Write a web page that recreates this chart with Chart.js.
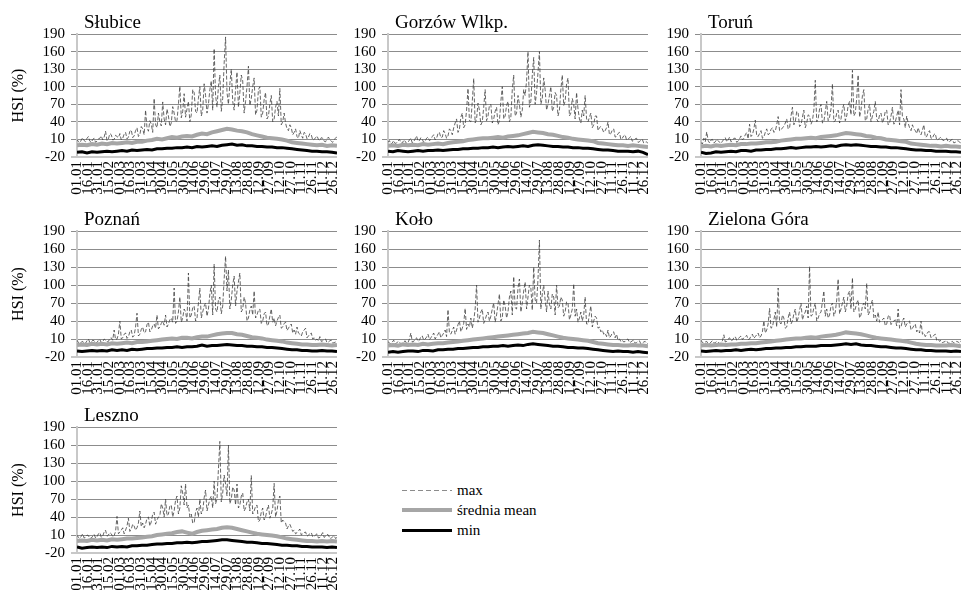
<!DOCTYPE html>
<html>
<head>
<meta charset="utf-8">
<script src="https://cdn.jsdelivr.net/npm/chart.js@4.4.1/dist/chart.umd.min.js"></script>
<style>
  body { margin: 0; background: #fff; }
  #wrap { position: relative; width: 962px; height: 590px; overflow: hidden; }
  #wrap canvas { position: absolute; }
  .leg { position: absolute; left: 402px; height: 16px; display: flex; align-items: center;
         font: 15px "Liberation Serif", serif; color: #000; white-space: nowrap; }
  .leg i { display: inline-block; width: 50px; margin-right: 5px; }
</style>
</head>
<body>
<div id="wrap">
  <div class="leg" style="top:482px"><i style="height:1px;background:repeating-linear-gradient(90deg,#8c8c8c 0 5px,transparent 5px 8px)"></i>max</div>
  <div class="leg" style="top:502px"><i style="height:4px;background:#a6a6a6"></i>średnia mean</div>
  <div class="leg" style="top:522px"><i style="height:3px;background:#000"></i>min</div>
</div>
<script>
/* tick labels */
const yTickValues = [-20, 10, 40, 70, 100, 130, 160, 190];
const tickLabels = ['01.01', '16.01', '31.01', '15.02', '01.03', '16.03', '31.03', '15.04', '30.04',
    '15.05', '30.05', '14.06', '29.06', '14.07', '29.07', '13.08', '28.08', '12.09', '27.09',
    '12.10', '27.10', '11.11', '26.11', '11.12', '26.12'];

/* HSI (%) - max every 2 days, mean and min weekly */
const maxSlubice = [10, 6, 4, 9, 13, 8, 6, 12, 15, 7, 5, 10, 12, 5, 7, 11,
    12, 16, 9, 14, 24, 8, 11, 20, 18, 9, 10, 17, 15, 13,
    20, 9, 12, 19, 22, 11, 14, 24, 26, 13, 16, 25, 30, 15, 18, 32,
    28, 18, 60, 30, 24, 42, 36, 22, 80, 35, 30, 55, 40, 33,
    74, 45, 35, 62, 50, 32, 38, 66, 55, 40, 42, 70, 101, 47, 58, 88,
    48, 62, 75, 40, 52, 95, 90, 58, 55, 80, 100, 50, 60, 105, 85, 55,
    70, 95, 110, 60, 165, 85, 65, 100, 120, 58, 80, 140, 185, 90,
    70, 105, 130, 75, 60, 95, 125, 65, 90, 120, 110, 55, 75, 100, 135, 68,
    80, 100, 115, 52, 60, 95, 100, 48, 55, 78, 90, 45, 50, 70, 85, 40,
    45, 65, 75, 50, 97, 35, 40, 55, 38, 28, 25, 35, 30, 18,
    22, 28, 15, 12, 25, 18, 12, 22, 20, 11, 14, 20, 18, 9, 10, 13,
    16, 10, 8, 13, 12, 7, 6, 11, 14, 9, 7, 5, 10, 12, 15];
const meanSlubice = [0, 1, 0, 2, 1, 3, 2, 4, 3, 4, 5, 4, 6, 6, 8, 9, 11, 10, 12, 14, 13, 15, 16, 15, 18, 20,
    19, 22, 24, 26, 28, 27, 25, 24, 22, 19, 17, 15, 13, 12, 11, 10, 8, 5, 4, 3, 2, 1, 0, 1, -1, 0, -1];
const minSlubice = [-12, -11, -13, -11, -12, -11, -10, -11, -10, -9, -10, -8, -9, -8, -7, -8, -6, -6, -5, -5, -4, -4,
    -3, -4, -2, -3, -2, -1, -2, 0, 1, 2, 0, 1, -1, -1, -2, -2, -3, -3, -4, -4, -5, -6, -7, -8, -9, -10,
    -10, -11, -11, -12, -13];

const maxGorzow = [5, 8, 2, 4, 8, 3, 4, 7, 10, 5, 3, 9, 7, 3, 5, 9,
    12, 4, 6, 11, 16, 7, 8, 13, 10, 5, 7, 12, 14, 8,
    10, 15, 18, 9, 12, 20, 22, 13, 14, 25, 20, 12, 16, 28, 25, 18,
    30, 38, 45, 22, 28, 48, 55, 30, 35, 60, 97, 42, 40, 75,
    114, 38, 45, 72, 60, 35, 40, 65, 95, 42, 50, 68, 70, 38, 45, 58,
    65, 35, 42, 75, 100, 45, 50, 68, 75, 40, 48, 95, 120, 50, 55, 85,
    70, 48, 60, 95, 85, 110, 160, 65, 75, 120, 150, 70, 90, 125,
    160, 70, 80, 115, 95, 60, 70, 85, 100, 58, 65, 90, 85, 50, 60, 95,
    120, 68, 75, 105, 115, 50, 55, 80, 70, 45, 90, 62, 45, 38, 60, 50,
    85, 45, 40, 48, 55, 30, 35, 50, 50, 25, 30, 32, 28, 22,
    25, 30, 40, 18, 20, 26, 28, 14, 15, 20, 22, 10, 12, 16, 18, 9,
    10, 13, 15, 7, 8, 11, 12, 5, 6, 9, 10, 4, 5, 6, 3];
const meanGorzow = [-1, 0, -1, 1, 0, 1, 0, 2, 1, 2, 3, 2, 4, 5, 6, 7, 9, 10, 11, 12, 12, 13, 14, 13, 15, 16,
    17, 19, 21, 23, 22, 21, 19, 18, 16, 14, 13, 11, 10, 9, 8, 7, 4, 3, 2, 1, 0, 0, -1, 0, -1, -2, -3];
const minGorzow = [-10, -11, -9, -10, -11, -10, -9, -10, -9, -9, -8, -9, -8, -7, -7, -6, -6, -5, -5, -4, -4, -3,
    -4, -3, -2, -3, -2, -1, -2, 0, 1, 0, -1, -2, -2, -3, -3, -4, -4, -5, -5, -6, -7, -8, -8, -9, -10, -10,
    -10, -11, -10, -12, -16];

const maxTorun = [5, 2, 12, 6, 23, 8, 4, 9, 10, 4, 6, 10, 8, 5, 3, 7,
    10, 13, 6, 9, 14, 6, 8, 12, 12, 5, 7, 11, 16, 9,
    12, 18, 22, 11, 36, 15, 18, 28, 43, 16, 15, 20, 25, 12, 14, 22,
    28, 18, 20, 27, 30, 22, 24, 35, 49, 25, 26, 30, 32, 38,
    45, 28, 30, 50, 65, 35, 40, 58, 55, 32, 35, 48, 60, 30, 38, 52,
    50, 36, 42, 60, 111, 40, 45, 62, 70, 38, 40, 58, 75, 42, 48, 62,
    105, 40, 42, 55, 60, 38, 45, 62, 70, 42, 50, 68, 75, 52,
    128, 50, 55, 80, 120, 48, 60, 85, 95, 42, 45, 62, 70, 40, 50, 58,
    75, 45, 40, 52, 55, 38, 45, 58, 60, 35, 38, 50, 65, 36, 40, 50,
    60, 35, 95, 48, 45, 30, 50, 38, 30, 25, 35, 28, 25, 20,
    30, 22, 18, 26, 35, 14, 15, 22, 25, 12, 12, 18, 20, 9, 10, 12,
    14, 9, 8, 11, 12, 6, 6, 9, 10, 4, 5, 7, 8, 5, 4];
const meanTorun = [-2, -1, -2, 0, -1, 0, 1, 0, 2, 2, 3, 3, 4, 5, 5, 6, 8, 9, 10, 11, 11, 12, 13, 12, 14, 15,
    16, 17, 19, 21, 20, 19, 18, 16, 15, 13, 12, 10, 9, 8, 7, 6, 3, 2, 1, 0, -1, -1, -2, -1, -2, -2, -3];
const minTorun = [-12, -14, -13, -11, -12, -11, -10, -11, -9, -9, -10, -8, -8, -7, -7, -6, -6, -5, -4, -5, -4, -3,
    -3, -2, -3, -2, -1, -2, 0, 1, 0, 1, 0, -1, -2, -2, -3, -3, -4, -4, -5, -6, -7, -8, -8, -9, -9, -10,
    -10, -10, -11, -11, -12];

const maxPoznan = [8, 4, 2, 5, 6, 2, 3, 7, 10, 4, 5, 8, 7, 3, 4, 8,
    9, 4, 5, 10, 8, 5, 6, 11, 12, 8, 25, 9, 10, 18,
    40, 10, 12, 18, 20, 11, 14, 22, 25, 13, 16, 30, 53, 15, 18, 26,
    30, 20, 22, 34, 38, 22, 25, 32, 35, 28, 50, 27, 30, 36,
    40, 33, 50, 30, 35, 42, 45, 38, 95, 36, 40, 55, 80, 38, 45, 60,
    55, 40, 120, 45, 50, 62, 65, 40, 45, 70, 95, 45, 55, 65, 70, 48,
    60, 85, 100, 50, 135, 60, 55, 75, 80, 52, 65, 110, 148, 90,
    125, 60, 75, 100, 115, 65, 90, 105, 120, 55, 60, 80, 70, 40, 45, 58,
    65, 50, 90, 45, 50, 58, 60, 36, 40, 52, 55, 32, 35, 48, 60, 38,
    45, 32, 40, 46, 50, 28, 30, 36, 38, 24, 28, 32, 35, 20,
    25, 18, 30, 20, 18, 15, 22, 25, 28, 12, 15, 18, 20, 10, 12, 8,
    10, 7, 14, 6, 7, 9, 10, 4, 5, 7, 8, 3, 4, 5, 6];
const meanPoznan = [0, 1, 0, 2, 1, 2, 1, 3, 2, 3, 4, 3, 5, 5, 6, 7, 8, 9, 10, 11, 10, 12, 12, 11, 13, 14,
    14, 16, 18, 19, 20, 20, 18, 17, 15, 13, 12, 11, 9, 8, 7, 6, 4, 3, 2, 1, 1, 0, 0, 1, 0, -1, 0];
const minPoznan = [-10, -11, -10, -9, -10, -9, -10, -8, -9, -8, -9, -7, -8, -7, -6, -6, -5, -5, -4, -4, -3, -4,
    -3, -3, -2, 0, -2, -1, -1, 0, 1, 0, -1, -1, -2, -2, -3, -3, -4, -4, -5, -6, -7, -8, -8, -9, -9, -10,
    -10, -9, -10, -10, -11];

const maxKolo = [6, 3, 2, 5, 8, 2, 3, 6, 5, 2, 2, 5, 7, 3, 4, 10,
    20, 5, 6, 10, 12, 6, 8, 14, 15, 8, 10, 13, 18, 9,
    12, 16, 20, 10, 14, 18, 22, 12, 16, 20, 25, 14, 59, 20, 18, 24,
    30, 18, 25, 34, 40, 22, 28, 36, 61, 26, 35, 30, 45, 28,
    40, 60, 100, 38, 45, 55, 60, 36, 42, 50, 55, 40, 48, 60, 70, 38,
    50, 68, 85, 40, 45, 75, 65, 45, 55, 80, 90, 50, 114, 62, 60, 95,
    110, 55, 70, 90, 105, 60, 80, 100, 95, 58, 130, 75, 70, 110,
    175, 60, 85, 100, 75, 55, 90, 68, 60, 85, 80, 50, 100, 62, 65, 80,
    75, 48, 55, 72, 70, 42, 50, 60, 102, 48, 60, 38, 45, 55, 40, 50,
    80, 35, 35, 52, 65, 30, 40, 48, 45, 28, 30, 22, 25, 18,
    20, 14, 25, 12, 15, 20, 22, 12, 18, 8, 10, 6, 8, 5, 6, 9,
    10, 4, 5, 7, 8, 3, 4, 6, 7, 2, 3, 5, 6, 3, 2];
const meanKolo = [-1, 0, -1, 1, 0, 1, 0, 2, 1, 2, 3, 3, 4, 5, 6, 7, 8, 9, 10, 11, 12, 13, 14, 15, 16, 17,
    18, 19, 20, 22, 21, 20, 18, 16, 14, 12, 11, 10, 9, 8, 7, 5, 3, 2, 1, 0, 0, -1, -1, 0, -1, -1, -2];
const minKolo = [-12, -11, -12, -11, -10, -10, -11, -9, -9, -10, -8, -8, -7, -7, -6, -6, -5, -4, -4, -3, -3, -2,
    -2, -1, -2, -1, 0, -1, 1, 2, 1, 0, -1, -2, -2, -3, -4, -4, -5, -5, -6, -7, -8, -9, -10, -11, -10, -11,
    -11, -12, -11, -12, -13];

const maxZielona = [8, 4, 3, 5, 6, 2, 2, 5, 7, 3, 4, 6, 5, 2, 3, 7,
    17, 5, 6, 10, 12, 7, 8, 12, 14, 8, 10, 13, 15, 9,
    12, 14, 16, 9, 10, 15, 18, 11, 14, 17, 20, 12, 15, 22, 40, 20,
    25, 35, 61, 28, 30, 42, 55, 30, 95, 38, 35, 50, 45, 28,
    30, 45, 55, 35, 40, 52, 60, 38, 45, 58, 70, 42, 50, 55, 65, 45,
    131, 48, 50, 62, 70, 40, 45, 52, 55, 72, 90, 48, 60, 45, 50, 65,
    70, 48, 55, 75, 110, 52, 60, 70, 80, 55, 65, 85, 90, 60,
    112, 55, 60, 70, 75, 45, 50, 65, 70, 60, 103, 50, 55, 68, 75, 45,
    50, 40, 55, 38, 40, 42, 45, 32, 35, 48, 50, 34, 38, 40, 42, 32,
    60, 28, 30, 40, 45, 30, 35, 38, 40, 25, 28, 32, 35, 22,
    25, 20, 40, 18, 20, 14, 18, 22, 22, 12, 14, 16, 18, 8, 10, 6,
    8, 4, 5, 6, 7, 3, 3, 5, 6, 3, 4, 6, 5, 3, 7];
const meanZielona = [-1, 0, -1, 0, 1, 0, 1, 1, 2, 2, 3, 3, 4, 5, 6, 7, 8, 9, 10, 11, 11, 12, 13, 12, 14, 15,
    16, 17, 19, 21, 20, 19, 18, 16, 14, 12, 11, 10, 9, 8, 7, 6, 4, 2, 1, 0, 0, -1, -1, -1, 0, -1, -2];
const minZielona = [-10, -11, -10, -9, -10, -9, -9, -8, -9, -8, -7, -8, -7, -6, -6, -5, -5, -4, -4, -3, -3, -2,
    -2, -2, -1, -1, -1, 0, 1, 2, 1, 2, 0, -1, -1, -2, -3, -3, -4, -5, -5, -6, -7, -8, -8, -9, -9, -10,
    -10, -10, -11, -10, -11];

const maxLeszno = [10, 6, 4, 8, 12, 5, 6, 10, 9, 4, 5, 8, 11, 5, 7, 12,
    14, 6, 8, 15, 18, 8, 10, 14, 12, 7, 9, 16, 41, 12,
    15, 18, 22, 12, 18, 25, 38, 16, 20, 28, 25, 18, 22, 30, 50, 24,
    30, 22, 28, 38, 40, 25, 32, 45, 48, 28, 35, 40, 42, 62,
    55, 40, 70, 42, 45, 58, 60, 40, 50, 68, 75, 45, 55, 92, 80, 60,
    95, 55, 60, 40, 45, 30, 30, 48, 55, 40, 70, 45, 50, 72, 85, 50,
    60, 70, 75, 55, 100, 62, 70, 120, 166, 65, 80, 110, 95, 75,
    160, 62, 70, 90, 85, 60, 95, 55, 60, 75, 80, 50, 55, 65, 70, 50,
    109, 45, 50, 58, 60, 32, 35, 48, 55, 35, 40, 52, 60, 38, 45, 55,
    96, 40, 50, 68, 75, 30, 35, 32, 30, 20, 25, 28, 22, 16,
    18, 12, 14, 17, 20, 10, 12, 14, 15, 8, 10, 12, 14, 7, 8, 10,
    12, 5, 6, 10, 14, 6, 8, 11, 10, 4, 5, 7, 9, 4, 6];
const meanLeszno = [0, 1, 0, 2, 1, 2, 1, 3, 2, 3, 4, 4, 5, 6, 7, 8, 10, 11, 12, 13, 15, 16, 14, 12, 15, 17,
    18, 19, 20, 22, 23, 22, 20, 18, 16, 14, 12, 11, 10, 9, 8, 6, 4, 3, 2, 1, 0, 0, -1, 0, -1, 0, -1];
const minLeszno = [-10, -12, -11, -10, -11, -10, -11, -9, -10, -9, -10, -8, -8, -7, -7, -6, -5, -5, -4, -4, -3, -3,
    -2, -3, -2, -1, -1, 0, 1, 2, 2, 1, 0, -1, -2, -2, -3, -4, -4, -5, -6, -7, -7, -8, -8, -9, -9, -10,
    -10, -10, -11, -10, -11];

const lastDay = 365;

/* panel layout */
const panels = [
    { name: 'Słubice', max: maxSlubice, mean: meanSlubice, min: minSlubice, left: 0, top: 0, w: 340, h: 195, axisW: 77, padTop: 34, bottom: 157, padRight: 3, yTitle: true },
    { name: 'Gorzów Wlkp.', max: maxGorzow, mean: meanGorzow, min: minGorzow, left: 340, top: 0, w: 310, h: 195, axisW: 48, padTop: 34, bottom: 157, padRight: 2 },
    { name: 'Toruń', max: maxTorun, mean: meanTorun, min: minTorun, left: 650, top: 0, w: 312, h: 195, axisW: 51, padTop: 34, bottom: 157, padRight: 1 },
    { name: 'Poznań', max: maxPoznan, mean: meanPoznan, min: minPoznan, left: 0, top: 195, w: 340, h: 200, axisW: 77, padTop: 36, bottom: 162, padRight: 3, yTitle: true },
    { name: 'Koło', max: maxKolo, mean: meanKolo, min: minKolo, left: 340, top: 195, w: 310, h: 200, axisW: 48, padTop: 36, bottom: 162, padRight: 2 },
    { name: 'Zielona Góra', max: maxZielona, mean: meanZielona, min: minZielona, left: 650, top: 195, w: 312, h: 200, axisW: 51, padTop: 36, bottom: 162, padRight: 1 },
    { name: 'Leszno', max: maxLeszno, mean: meanLeszno, min: minLeszno, left: 0, top: 395, w: 340, h: 195, axisW: 77, padTop: 32, bottom: 158, padRight: 3, yTitle: true }
];

const serif = '"Liberation Serif", "Times New Roman", serif';

// station name written just above the plot, like the excel chart title
const panelTitle = {
    id: 'panelTitle',
    afterDraw: function (chart, args, opts) {
        const ctx = chart.ctx, area = chart.chartArea;
        ctx.save();
        ctx.font = '19px ' + serif;
        ctx.fillStyle = '#000';
        ctx.textBaseline = 'alphabetic';
        ctx.fillText(opts.text, area.left + 7, area.top - 6);
        ctx.restore();
    }
};

function points(values) {
    const step = lastDay / (values.length - 1);
    return values.map((v, i) => ({ x: i * step, y: v }));
}

const wrap = document.getElementById('wrap');

panels.forEach(p => {
    const canvas = document.createElement('canvas');
    canvas.width = p.w;
    canvas.height = p.h;
    canvas.style.left = p.left + 'px';
    canvas.style.top = p.top + 'px';
    canvas.style.width = p.w + 'px';
    canvas.style.height = p.h + 'px';
    wrap.appendChild(canvas);

    new Chart(canvas.getContext('2d'), {
        type: 'line',
        data: {
            datasets: [
                { label: 'min', data: points(p.min), borderColor: '#000', borderWidth: 3 },
                { label: 'średnia mean', data: points(p.mean), borderColor: '#a6a6a6', borderWidth: 4 },
                { label: 'max', data: points(p.max), borderColor: '#404040', borderWidth: 0.8, borderDash: [4, 2] }
            ]
        },
        options: {
            responsive: false,
            animation: false,
            devicePixelRatio: 1,
            layout: { padding: { top: p.padTop, right: p.padRight, bottom: 0, left: 0 } },
            elements: { point: { radius: 0 }, line: { tension: 0, fill: false } },
            plugins: {
                legend: { display: false },
                tooltip: { enabled: false },
                panelTitle: { text: p.name }
            },
            scales: {
                x: {
                    type: 'linear',
                    min: 0,
                    max: lastDay,
                    afterBuildTicks: s => { s.ticks = tickLabels.map((t, k) => ({ value: k * 15 })); },
                    afterFit: s => { s.height = p.h - p.bottom; s.paddingLeft = 0; s.paddingRight = 0; },
                    grid: { display: false, drawTicks: false },
                    border: { display: false },
                    ticks: {
                        autoSkip: false,
                        minRotation: 90,
                        maxRotation: 90,
                        padding: 4,
                        color: '#000',
                        font: { family: serif, size: 15 },
                        callback: (v, i) => tickLabels[i]
                    }
                },
                y: {
                    min: -20,
                    max: 190,
                    afterBuildTicks: s => { s.ticks = yTickValues.map(v => ({ value: v })); },
                    afterFit: s => { s.width = p.axisW; s.paddingTop = 0; s.paddingBottom = 0; },
                    grid: {
                        color: c => (c.tick && c.tick.value === -20) ? '#c8c8c8' : '#8c8c8c',
                        lineWidth: c => (c.tick && c.tick.value === -20) ? 2 : 1,
                        tickLength: 6
                    },
                    border: { color: '#c8c8c8', width: 2 },
                    ticks: {
                        autoSkip: false,
                        padding: 6,
                        color: '#000',
                        font: { family: serif, size: 15 }
                    },
                    title: {
                        display: !!p.yTitle,
                        text: 'HSI (%)',
                        color: '#000',
                        font: { family: serif, size: 16 },
                        padding: { top: 9, bottom: 0 }
                    }
                }
            }
        },
        plugins: [panelTitle]
    });
});
</script>
</body>
</html>
